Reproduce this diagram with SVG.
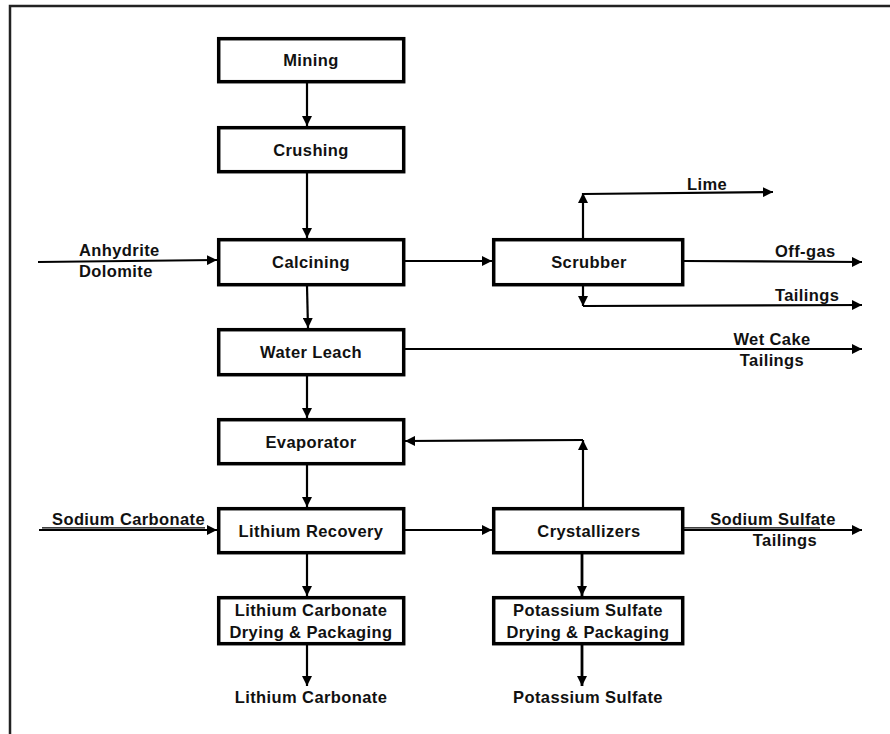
<svg xmlns="http://www.w3.org/2000/svg" width="890" height="734" viewBox="0 0 890 734">
<defs>
<marker id="ah" viewBox="0 0 10 10" refX="10" refY="5" markerWidth="10" markerHeight="10" markerUnits="userSpaceOnUse" orient="auto">
<path d="M0,0 L10,5 L0,10 z" fill="#000"/>
</marker>
<style>
.box{fill:#fff;stroke:#000;stroke-width:3.5}
.t{font-family:"Liberation Sans",Arial,sans-serif;font-weight:bold;font-size:16.5px;fill:#111;letter-spacing:0.4px}
.c{text-anchor:middle}
.ln{fill:none;stroke:#000;stroke-width:1.2}
.ar{fill:none;stroke:#000;stroke-width:2.2;marker-end:url(#ah)}
.frame{fill:none;stroke:#222;stroke-width:2.5}
</style>
</defs>
<rect width="890" height="734" fill="#fff"/>
<path class="frame" d="M10,734 L10,6 L890,6"/>

<g id="connectors">
<line class="ar" x1="307" y1="83" x2="307" y2="126"/>
<line class="ar" x1="307" y1="173" x2="307" y2="238"/>
<line class="ar" x1="307" y1="286" x2="308" y2="328"/>
<line class="ar" x1="307" y1="376" x2="307" y2="418"/>
<line class="ar" x1="307" y1="465" x2="307" y2="507"/>
<line class="ar" x1="307" y1="554" x2="307" y2="596"/>
<line class="ar" x1="307" y1="645" x2="307" y2="686"/>
<line class="ar" x1="38" y1="262" x2="217" y2="260"/>
<line class="ar" x1="39" y1="530" x2="217" y2="530"/>
<line class="ln" x1="42" y1="527.8" x2="205" y2="527.8"/>
<line class="ar" x1="405" y1="261" x2="492" y2="261"/>
<line class="ar" x1="583" y1="238" x2="583" y2="193"/>
<line class="ar" x1="583" y1="194" x2="773" y2="192"/>
<line class="ar" x1="684" y1="261" x2="862" y2="262"/>
<line class="ar" x1="583" y1="286" x2="583" y2="306"/>
<line class="ar" x1="583" y1="306" x2="862" y2="305"/>
<line class="ar" x1="405" y1="349" x2="862" y2="349"/>
<line class="ar" x1="583" y1="507" x2="583" y2="440"/>
<line class="ar" x1="583" y1="440" x2="405" y2="441"/>
<line class="ar" x1="405" y1="530" x2="492" y2="530"/>
<line class="ar" x1="684" y1="530" x2="862" y2="530"/>
<line class="ln" x1="684" y1="527.8" x2="820" y2="527.8"/>
<line class="ar" x1="582" y1="554" x2="582" y2="596" style="stroke-width:2.8"/>
<line class="ar" x1="582" y1="645" x2="582" y2="686" style="stroke-width:2.8"/>
</g>

<g id="mining"><rect class="box" x="218.7" y="38.7" width="185" height="43"/><text class="t c" x="311" y="66">Mining</text></g>
<g id="crushing"><rect class="box" x="218.7" y="127.7" width="185" height="44"/><text class="t c" x="311" y="156">Crushing</text></g>
<g id="calcining"><rect class="box" x="218.7" y="239.7" width="185" height="45"/><text class="t c" x="311" y="268">Calcining</text></g>
<g id="water-leach"><rect class="box" x="218.7" y="329.7" width="185" height="45"/><text class="t c" x="311" y="358">Water Leach</text></g>
<g id="evaporator"><rect class="box" x="218.7" y="419.7" width="185" height="44"/><text class="t c" x="311" y="448">Evaporator</text></g>
<g id="lithium-recovery"><rect class="box" x="218.7" y="508.7" width="185" height="44"/><text class="t c" x="311" y="537">Lithium Recovery</text></g>
<g id="lithium-drying"><rect class="box" x="218.7" y="597.7" width="185" height="46"/><text class="t c" x="311" y="616">Lithium Carbonate</text><text class="t c" x="311" y="638">Drying &amp; Packaging</text></g>
<g id="scrubber"><rect class="box" x="493.7" y="239.7" width="189" height="45"/><text class="t c" x="589" y="268">Scrubber</text></g>
<g id="crystallizers"><rect class="box" x="493.7" y="508.7" width="189" height="44"/><text class="t c" x="589" y="537">Crystallizers</text></g>
<g id="potassium-drying"><rect class="box" x="493.7" y="597.7" width="189" height="46"/><text class="t c" x="588" y="616">Potassium Sulfate</text><text class="t c" x="588" y="638">Drying &amp; Packaging</text></g>

<g id="labels">
<text class="t" x="79" y="256">Anhydrite</text>
<text class="t" x="79" y="277">Dolomite</text>
<text class="t" x="52" y="525">Sodium Carbonate</text>
<text class="t" x="687" y="190">Lime</text>
<text class="t" x="775" y="257">Off-gas</text>
<text class="t" x="775" y="301">Tailings</text>
<text class="t c" x="772" y="345">Wet Cake</text>
<text class="t c" x="772" y="366">Tailings</text>
<text class="t c" x="773" y="525">Sodium Sulfate</text>
<text class="t c" x="785" y="546">Tailings</text>
<text class="t c" x="311" y="703">Lithium Carbonate</text>
<text class="t c" x="588" y="703">Potassium Sulfate</text>
</g>
</svg>
